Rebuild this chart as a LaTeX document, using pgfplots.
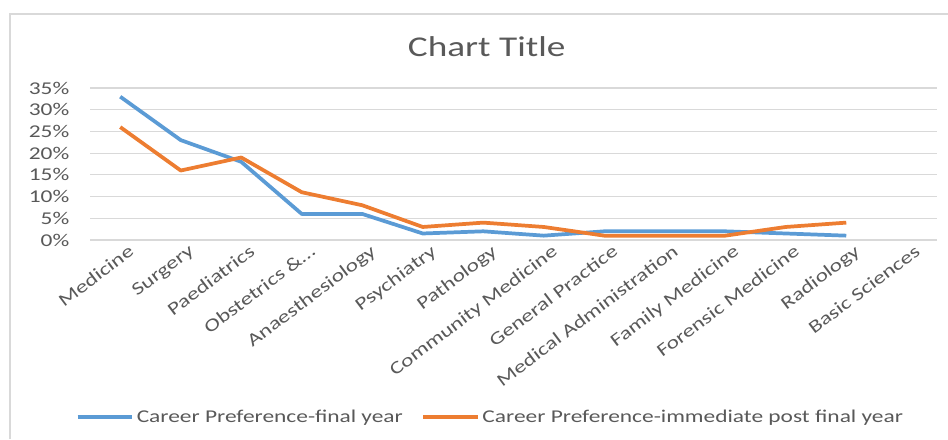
\documentclass[border=0pt]{standalone}
\usepackage{fontspec}
\setmainfont{Carlito}[FakeStretch=1.3]
\usepackage{pgfplots}
\pgfplotsset{compat=1.18}
\definecolor{cblue}{HTML}{5B9BD5}
\definecolor{corange}{HTML}{ED7D31}
\definecolor{cgrid}{HTML}{D9D9D9}
\definecolor{ctext}{HTML}{595959}
\newcommand{\obst}{Obstetrics \&\ldots}
\begin{document}
\begin{tikzpicture}
\path[use as bounding box] (0,0) rectangle (711pt,329.25pt);
\draw[cgrid, line width=1.1pt] (7.5pt,0) -- (7.5pt,318.75pt) -- (711pt,318.75pt);
\node[text=ctext, font=\fontsize{21.5}{24}\selectfont] at (365pt,294pt) {Chart Title};
\begin{axis}[
  at={(67.5pt,149.25pt)}, anchor=south west,
  scale only axis, width=635.25pt, height=114pt,
  xmin=-0.5, xmax=13.5, ymin=0, ymax=35,
  ytick={0,5,...,35},
  ymajorgrids, grid style={cgrid, line width=0.9pt},
  axis line style={draw=none},
  major tick length=0pt,
  xtick={0,1,2,3,4,5,6,7,8,9,10,11,12,13},
  xticklabels={Medicine,Surgery,Paediatrics,\obst,Anaesthesiology,Psychiatry,Pathology,Community Medicine,General Practice,Medical Administration,Family Medicine,Forensic Medicine,Radiology,Basic Sciences},
  xticklabel style={rotate=37, anchor=north east, xshift=6pt, yshift=-2pt},
  yticklabel={\pgfmathprintnumber{\tick}\%},
  yticklabel style={xshift=-12pt},
  /pgf/number format/assume math mode=true,
  tick label style={text=ctext, font=\fontsize{13.5}{15}\selectfont},
  legend columns=2,
  legend cell align=left,
  legend style={at={(0.473,-1.164)}, anchor=center, draw=none, fill=none,
    font=\fontsize{13.5}{16}\selectfont, text=ctext,
    /tikz/every even column/.append style={column sep=12pt}},
  legend image code/.code={\draw[#1] (0pt,0pt) -- (41pt,0pt);},
]
\addplot[cblue, line width=2.8pt, line join=round, no markers] coordinates {
(0,33) (1,23) (2,18) (3,6) (4,6) (5,1.5) (6,2) (7,1) (8,2) (9,2) (10,2) (11,1.5) (12,1)
};
\addlegendentry{Career Preference-final year}
\addplot[corange, line width=2.8pt, line join=round, no markers] coordinates {
(0,26) (1,16) (2,19) (3,11) (4,8) (5,3) (6,4) (7,3) (8,1) (9,1) (10,1) (11,3) (12,4)
};
\addlegendentry{Career Preference-immediate post final year}
\end{axis}
\end{tikzpicture}
\end{document}
